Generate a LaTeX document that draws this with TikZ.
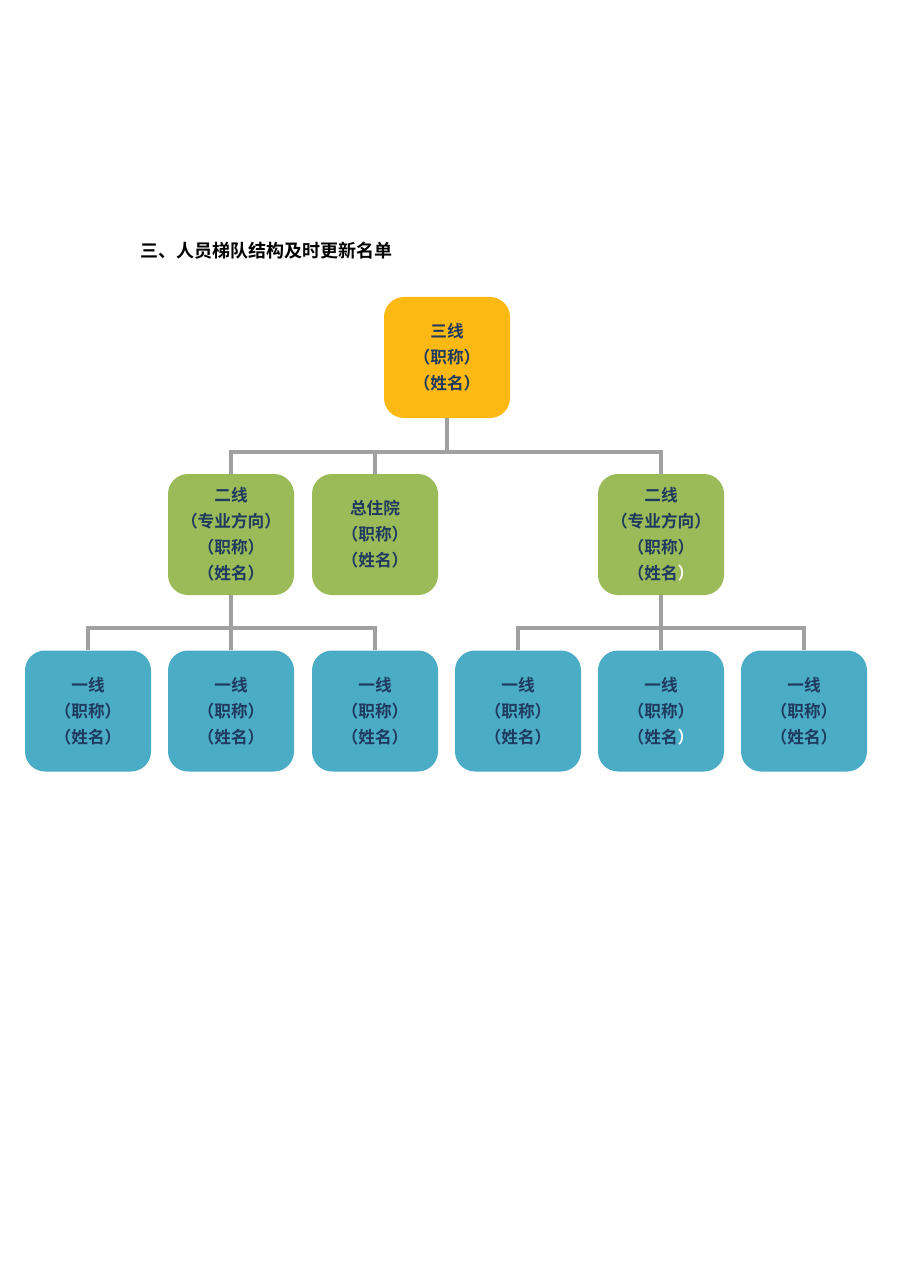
\documentclass[tikz,border=0pt]{standalone}
\usepackage{fontspec}
\setmainfont{Noto Sans CJK SC}[BoldFont={* Bold}]
\definecolor{org}{HTML}{FDB913}
\definecolor{grn}{HTML}{9BBB59}
\definecolor{blu}{HTML}{4BACC6}
\definecolor{txt}{HTML}{1F3A5F}
\definecolor{lin}{HTML}{A0A0A0}
\begin{document}
\begin{tikzpicture}[x=0.75pt,y=-0.75pt,
 box/.style={rounded corners=15pt,minimum width=126*0.75pt,minimum height=121*0.75pt,inner sep=0pt,align=center,font=\bfseries\fontsize{12.5pt}{19.5pt}\selectfont,text=txt},
 con/.style={draw=lin,line width=3pt}]
\fill[white] (0,0) rectangle (910,1287);
\useasboundingbox (0,0) rectangle (910,1287);
\node[anchor=west,font=\bfseries\fontsize{13.5pt}{16pt}\selectfont] (title) at (136,251) {三、人员梯队结构及时更新名单};
\node[box,fill=org] (t) at (447,357.5) {三线\\（职称）\\（姓名）};
\node[box,fill=grn] (g1) at (231,534.5) {二线\\（专业方向）\\（职称）\\（姓名）};
\node[box,fill=grn] (g2) at (375,534.5) {总住院\\（职称）\\（姓名）};
\node[box,fill=grn] (g3) at (661,534.5) {二线\\（专业方向）\\（职称）\\（姓名\textcolor{white}{）}};
\foreach \n/\x in {b1/88,b2/231,b3/375,b4/518,b6/804}
  \node[box,fill=blu] (\n) at (\x,711) {一线\\（职称）\\（姓名）};
\node[box,fill=blu] (b5) at (661,711) {一线\\（职称）\\（姓名\textcolor{white}{）}};
\coordinate (h1) at (447,452);
\coordinate (h2) at (231,628);
\coordinate (h3) at (661,628);
\draw[con] (t.south) -- (h1);
\draw[con] (g1.north) -- (g1.north|-h1) -- (g3.north|-h1) -- (g3.north);
\draw[con] (g2.north) -- (g2.north|-h1);
\draw[con] (g1.south) -- (h2);
\draw[con] (b1.north) -- (b1.north|-h2) -- (b3.north|-h2) -- (b3.north);
\draw[con] (b2.north) -- (b2.north|-h2);
\draw[con] (g3.south) -- (h3);
\draw[con] (b4.north) -- (b4.north|-h3) -- (b6.north|-h3) -- (b6.north);
\draw[con] (b5.north) -- (b5.north|-h3);
\end{tikzpicture}
\end{document}
